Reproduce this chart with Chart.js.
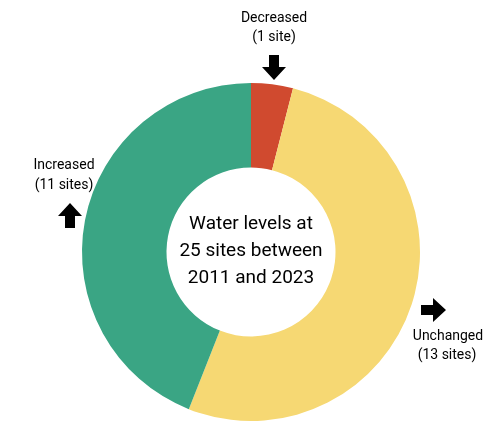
<!DOCTYPE html>
<html><head><meta charset="utf-8">
<script src="https://cdn.jsdelivr.net/npm/chart.js@4"></script>
<style>body{margin:0;background:#fff}</style>
</head><body>
<canvas id="c" width="500" height="433"></canvas>
<script>
const categories = ['Decreased', 'Unchanged', 'Increased'];
const siteCounts = [1, 13, 11];
const colors = ['#D04A2F', '#F6D873', '#3AA584'];
const centerLines = ['Water levels at', '25 sites between', '2011 and 2023'];

function arrow(ctx, x, y, dir) {
  // block arrow pointing in dir, centred at x,y
  ctx.save();
  ctx.translate(x, y);
  ctx.rotate({down: 0, up: Math.PI, right: -Math.PI / 2}[dir]);
  ctx.beginPath();
  ctx.moveTo(-5, -12); ctx.lineTo(5, -12); ctx.lineTo(5, 0); ctx.lineTo(12, 0);
  ctx.lineTo(0, 13); ctx.lineTo(-12, 0); ctx.lineTo(-5, 0); ctx.closePath();
  ctx.fillStyle = '#000';
  ctx.fill();
  ctx.restore();
}

const labelPlugin = {
  id: 'labels',
  afterDraw(chart) {
    const ctx = chart.ctx;
    const meta = chart.getDatasetMeta(0).data[0];
    ctx.save();
    ctx.textAlign = 'center';
    ctx.textBaseline = 'middle';
    ctx.fillStyle = '#000';
    ctx.font = '19px Roboto';
    centerLines.forEach((t, i) => ctx.fillText(t, meta.x, meta.y - 28 + i * 27));
    ctx.font = '14px Roboto';
    ctx.fillText(categories[0], 274, 18);
    ctx.fillText('(' + siteCounts[0] + ' site)', 274, 37);
    arrow(ctx, 274, 67, 'down');
    ctx.fillText(categories[2], 64, 165);
    ctx.fillText('(' + siteCounts[2] + ' sites)', 64, 185);
    arrow(ctx, 70, 216, 'up');
    arrow(ctx, 433, 310, 'right');
    ctx.fillText(categories[1], 448, 336);
    ctx.fillText('(' + siteCounts[1] + ' sites)', 447, 355);
    ctx.restore();
  }
};

new Chart(document.getElementById('c'), {
  type: 'doughnut',
  data: {
    labels: categories,
    datasets: [{ data: siteCounts, backgroundColor: colors, borderWidth: 0 }]
  },
  options: {
    responsive: false,
    animation: false,
    cutout: '50%',
    layout: { padding: { top: 83, bottom: 12, left: 2, right: 0 } },
    plugins: { legend: { display: false }, tooltip: { enabled: false } }
  },
  plugins: [labelPlugin]
});
</script>
</body></html>
